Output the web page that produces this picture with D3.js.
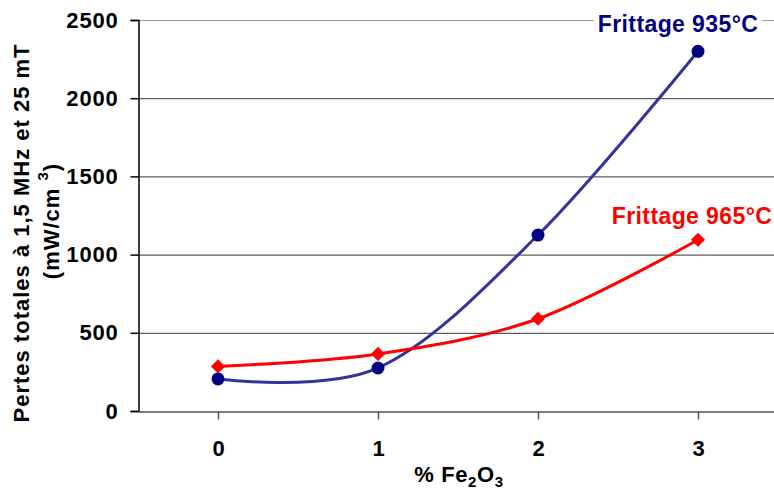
<!DOCTYPE html>
<html><head><meta charset="utf-8">
<script src="https://cdn.jsdelivr.net/npm/d3@7"></script>
<style>body{margin:0;background:#fff}svg{display:block;font-family:"Liberation Sans",Arial,sans-serif;font-weight:bold}</style>
</head><body>
<svg id="c" width="774" height="494"></svg>
<script>
const categories = [0, 1, 2, 3];
const s935 = [205, 275, 1125, 2300];
const s965 = [285, 365, 590, 1095];
const yTicks = [0, 500, 1000, 1500, 2000, 2500];

const FONT = '"Liberation Sans",Arial,sans-serif';
const svg = d3.select("#c");
const L = 138, R = 778, T = 20, B = 411;
const x = d3.scalePoint().domain(categories).range([L, R]).padding(0.5);
const y = d3.scaleLinear().domain([0, 2500]).range([B, T]);

// gridlines
svg.append("g").selectAll("line").data(yTicks.filter(d => d > 0)).join("line")
  .attr("x1", L).attr("x2", 774).attr("y1", d => y(d) + 0.5).attr("y2", d => y(d) + 0.5)
  .attr("stroke", d => d === 2500 ? "#999" : "#333").attr("stroke-width", 1);

// y axis
const ya = svg.append("g").attr("transform", `translate(${L + 0.5},0)`)
  .call(d3.axisLeft(y).tickValues(yTicks).tickFormat(d3.format("d")).tickSize(8).tickPadding(12));
ya.attr("font-size", 22).attr("font-family", FONT).attr("font-weight", "bold").attr("letter-spacing", 0.8);
ya.select(".domain").attr("stroke", "#000").attr("stroke-width", 1.5);
ya.selectAll(".tick line").attr("stroke", "#000").attr("stroke-width", 1.5);
ya.selectAll("text").attr("fill", "#000");

// x axis
const xa = svg.append("g").attr("transform", `translate(0,${B + 0.5})`)
  .call(d3.axisBottom(x).tickSize(8).tickPadding(21).tickSizeOuter(0));
xa.attr("font-size", 22).attr("font-family", FONT).attr("font-weight", "bold");
xa.select(".domain").attr("stroke", "#555").attr("stroke-width", 1.5);
xa.selectAll(".tick line").attr("stroke", "#555").attr("stroke-width", 1.5);
xa.selectAll("text").attr("fill", "#000");

// lines
const line = d3.line().x((d, i) => x(categories[i])).y(d => y(d)).curve(d3.curveCardinal.tension(0));
svg.append("path").datum(s935).attr("d", line).attr("fill", "none").attr("stroke", "#333399").attr("stroke-width", 3);
svg.append("path").datum(s965).attr("d", line).attr("fill", "none").attr("stroke", "#ff0000").attr("stroke-width", 3);

// markers
svg.append("g").selectAll("path").data(s965).join("path")
  .attr("d", d3.symbol(d3.symbolSquare, 100))
  .attr("transform", (d, i) => `translate(${x(categories[i])},${y(d)}) rotate(45)`)
  .attr("fill", "#ff0000");
svg.append("g").selectAll("circle").data(s935).join("circle")
  .attr("cx", (d, i) => x(categories[i])).attr("cy", d => y(d)).attr("r", 6.5)
  .attr("fill", "#000080");

// series labels
const lg = svg.append("g");
const bgRect = lg.append("rect").attr("fill", "#fff");
const lab1 = lg.append("text").attr("x", 678).attr("y", 32).attr("text-anchor", "middle")
  .attr("font-size", 23).attr("letter-spacing", 0.4).attr("fill", "#000080").text("Frittage 935°C");
const bb = lab1.node().getBBox();
bgRect.attr("x", bb.x - 4).attr("y", bb.y).attr("width", bb.width + 8).attr("height", bb.height);
svg.append("text").attr("x", 692).attr("y", 224).attr("text-anchor", "middle")
  .attr("font-size", 23).attr("letter-spacing", 0.4).attr("fill", "#ff0000").text("Frittage 965°C");

// y title
const yt = svg.append("g").attr("transform", "translate(29,233) rotate(-90)");
yt.append("text").attr("text-anchor", "middle").attr("font-size", 22).attr("letter-spacing", 1).attr("fill", "#000")
  .text("Pertes totales à 1,5 MHz et 25 mT");
const t2 = yt.append("text").attr("text-anchor", "middle").attr("x", 12).attr("y", 30)
  .attr("font-size", 22).attr("letter-spacing", 1).attr("fill", "#000");
t2.append("tspan").text("(mW/cm ");
t2.append("tspan").attr("dy", -11).attr("font-size", 15).text("3");
t2.append("tspan").attr("dy", 11).text(")");

// x title
const xt = svg.append("text").attr("x", 459).attr("y", 482).attr("text-anchor", "middle")
  .attr("font-size", 22).attr("letter-spacing", 0.6).attr("fill", "#000");
xt.append("tspan").text("% Fe");
xt.append("tspan").attr("dy", 5).attr("font-size", 15).text("2");
xt.append("tspan").attr("dy", -5).text("O");
xt.append("tspan").attr("dy", 5).attr("font-size", 15).text("3");
</script>
</body></html>
